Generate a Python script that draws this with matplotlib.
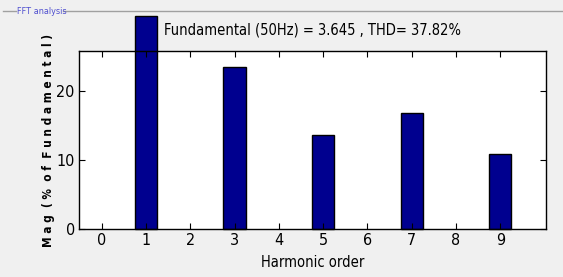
import matplotlib.pyplot as plt
from matplotlib.lines import Line2D

plt.rcParams['font.family'] = ['DejaVu Sans']
plt.rcParams['font.stretch'] = 'condensed'

harmonics = [0, 1, 2, 3, 4, 5, 6, 7, 8, 9]
mag = [0, 30.8, 0, 23.5, 0, 13.7, 0, 16.9, 0, 10.9]
xticks = list(range(10))
yticks = [0, 10, 20]

fig = plt.figure(figsize=(5.63, 2.77), dpi=100, facecolor='#f0f0f0')
ax = fig.add_axes([0.1403, 0.1722, 0.8295, 0.6437])

hx = [h for h, m in zip(harmonics, mag) if m > 0]
hm = [m for m in mag if m > 0]
bars = ax.bar(hx, hm, width=0.5, color='#00008f', edgecolor='black', linewidth=1)
for b in bars:
    b.set_clip_on(False)

ax.set_xlim(-0.51, 10.03)
ax.set_ylim(0, 25.8)
ax.set_xticks(xticks)
ax.set_yticks(yticks)
ax.tick_params(direction='in', top=True, right=True, length=4, labelsize=11.5, pad=3)
for s in ax.spines.values():
    s.set_linewidth(1)

ax.set_xlabel('Harmonic order', fontsize=10.5, labelpad=5)
ax.set_ylabel('M a g  ( %  o f  F u n d a m e n t a l )', fontsize=8.5, fontweight='bold', labelpad=1)
fig.text(0.555, 0.89, 'Fundamental (50Hz) = 3.645 , THD= 37.82%', ha='center', va='center',
         fontsize=10.5)

# panel frame title
fig.add_artist(Line2D([0.005, 0.028], [0.96, 0.96], color='#a0a0a0', lw=1))
fig.add_artist(Line2D([0.112, 1.0], [0.96, 0.96], color='#a0a0a0', lw=1))
fig.text(0.031, 0.96, 'FFT analysis', color='#5050d0', fontsize=6.5, ha='left', va='center')

plt.savefig('out.png', dpi=100, facecolor=fig.get_facecolor())
